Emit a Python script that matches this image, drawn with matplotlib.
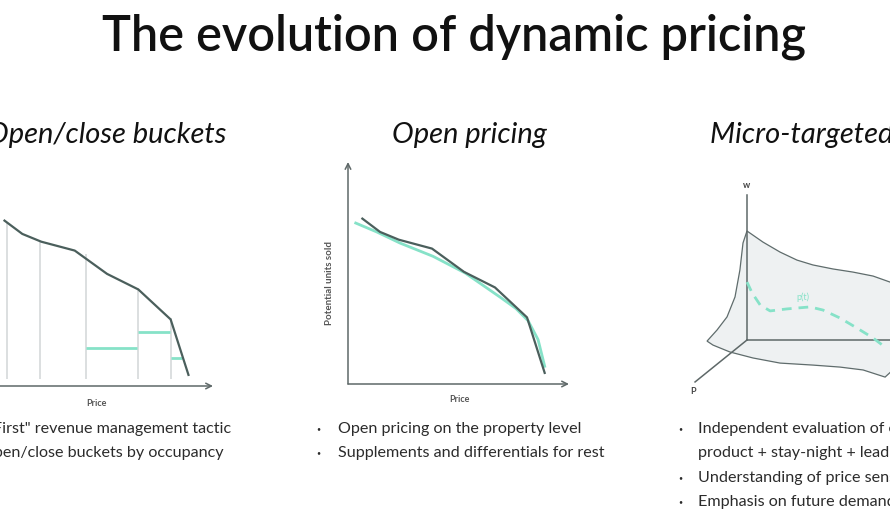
import numpy as np
import matplotlib
matplotlib.use("Agg")
import matplotlib.pyplot as plt

# demand curve (same shape in panels 1 and 2), price vs potential units sold
curve_price = [0.65, 1.45, 2.3, 3.8, 5.25, 6.65, 8.1, 8.9]
curve_units = [7.45, 6.85, 6.5, 6.1, 5.05, 4.35, 3.0, 0.5]

# open/close buckets: vertical boundaries and the teal bucket levels
bucket_x = [0.76, 2.24, 4.3, 6.64, 8.12]
bucket_top = [7.39, 6.53, 5.95, 4.41, 3.06]
bucket_bottom = 0.32
level_start = [4.3, 6.64, 8.12]
level_end = [6.6, 8.08, 8.6]
level_units = [1.71, 2.43, 1.26]

# open pricing: smooth fitted curve
smooth_price = [0.35, 1.3, 2.35, 3.85, 5.3, 6.9, 7.6, 8.15, 8.6, 8.9]
smooth_units = [7.25, 6.85, 6.35, 5.75, 5.0, 3.9, 3.4, 2.85, 2.0, 0.8]

# micro-targeted: surface outline and price path p(t)
top_u = [0, 0.72, 1.49, 2.25, 2.97, 3.87, 4.77, 5.68, 6.44, 7.34]
top_v = [4.91, 4.41, 3.96, 3.60, 3.38, 3.20, 3.06, 2.88, 2.61, 2.39]
bottom_u = [7.34, 6.67, 6.22, 5.23, 4.19, 2.97, 1.49, 0.27, -0.77, -1.53, -1.80]
bottom_v = [-0.54, -1.26, -1.67, -1.35, -1.22, -1.13, -1.04, -0.81, -0.54, -0.23, -0.05]
left_u = [-1.80, -1.35, -0.90, -0.54, -0.32, -0.18, 0]
left_v = [-0.05, 0.45, 1.04, 1.94, 3.15, 4.37, 4.91]
path_u = [0, 0.23, 0.59, 1.04, 1.80, 2.84, 3.42, 4.19, 4.95, 5.68, 6.22]
path_v = [2.61, 2.12, 1.58, 1.31, 1.40, 1.49, 1.35, 0.99, 0.54, 0.09, -0.32]

title = "The evolution of dynamic pricing"
subtitles = ["Open/close buckets", "Open pricing", "Micro-targeted pricing"]
bullets_1 = ['"First" revenue management tactic', "Open/close buckets by occupancy"]
bullets_2 = ["Open pricing on the property level", "Supplements and differentials for rest"]
bullets_3 = ["Independent evaluation of each", "product + stay-night + lead time",
             "Understanding of price sensitivity", "Emphasis on future demand"]

DARK = "#4b5f5c"
TEAL = "#86e2c8"
AXIS = "#5e6868"
GRID = "#d2d6d7"
TEXT = "#2b2b2b"

W, H = 890, 530
plt.rcParams["font.family"] = ["Lato", "DejaVu Sans"]
fig = plt.figure(figsize=(W / 100, H / 100), dpi=100)


def fx(x):
    return x / W


def fy(y):
    return 1 - y / H


def panel(left, right, top, bottom):
    ax = fig.add_axes([fx(left), fy(bottom), (right - left) / W, (bottom - top) / H])
    ax.set_xlim(0, 10)
    ax.set_ylim(0, 10)
    ax.axis("off")
    arrow = dict(arrowstyle="->", color=AXIS, lw=1.1, shrinkA=0, shrinkB=0,
                 mutation_scale=10)
    ax.annotate("", xy=(10, 0), xytext=(0, 0), arrowprops=arrow, annotation_clip=False)
    ax.annotate("", xy=(0, 10), xytext=(0, 0), arrowprops=arrow, annotation_clip=False)
    return ax


fig.text(fx(454), fy(37), title, ha="center", va="center", fontsize=35,
         fontweight="semibold", color="#111111")

# panel 1: open/close buckets
ax1 = panel(-10, 213, 164, 386)
ax1.vlines(bucket_x, bucket_bottom, bucket_top, color=GRID, lw=1.1)
ax1.hlines(level_units, level_start, level_end, color=TEAL, lw=2)
ax1.plot(curve_price, curve_units, color=DARK, lw=1.6, solid_joinstyle="round")
fig.text(fx(96), fy(403), "Price", ha="center", va="center", fontsize=6.5,
         fontweight="bold", color="#555555")

# panel 2: open pricing
ax2 = panel(348, 569, 162, 384)
ax2.plot(smooth_price, smooth_units, color=TEAL, lw=2, solid_joinstyle="round")
ax2.plot(curve_price, curve_units, color=DARK, lw=1.6, solid_joinstyle="round")
fig.text(fx(459), fy(400), "Price", ha="center", va="center", fontsize=6.5,
         fontweight="bold", color="#555555")
fig.text(fx(329), fy(283), "Potential units sold", ha="center", va="center",
         rotation=90, fontsize=7, fontweight="bold", color="#555555")

# panel 3: micro-targeted surface
ax3 = fig.add_axes([fx(680), fy(400), (950 - 680) / W, 230 / H])
ax3.set_xlim((680 - 747) / 22.2, (950 - 747) / 22.2)
ax3.set_ylim((340 - 400) / 22.2, (340 - 170) / 22.2)
ax3.axis("off")
su = top_u + bottom_u + left_u
sv = top_v + bottom_v + left_v
ax3.fill(su, sv, facecolor="#eef1f2", edgecolor="#5f6c6c", lw=0.9)
ax3.plot([0, 0], [0, 6.53], color=AXIS, lw=1.1)
ax3.plot([0, 8], [0, 0], color=AXIS, lw=1.1)
ax3.plot([0, -2.34], [0, -1.89], color=AXIS, lw=1.1)
ax3.plot(path_u, path_v, color=TEAL, lw=2, dashes=(3.5, 2.5))
ax3.text(0, 6.94, "w", ha="center", va="center", fontsize=6.5, fontweight="bold",
         color="#444444")
ax3.text(-2.43, -2.34, "P", ha="center", va="center", fontsize=6.5, fontweight="bold",
         color="#444444")
ax3.text(2.52, 1.94, "p(t)", ha="center", va="center", fontsize=6.5, color=TEAL)

# subtitles
sub_style = dict(fontsize=21, fontstyle="italic", fontweight="normal", color="#111111",
                 va="baseline")
fig.text(fx(226), fy(143), subtitles[0], ha="right", **sub_style)
fig.text(fx(469), fy(143), subtitles[1], ha="center", **sub_style)
fig.text(fx(710), fy(143), subtitles[2], ha="left", **sub_style)

# bullet lists
body = dict(fontsize=11.6, color=TEXT, va="center")
line_y = [429, 453, 478, 502]
for i, t in enumerate(bullets_1):
    fig.text(fx(231 - 7 * i), fy(line_y[i]), t, ha="right", **body)
for i, t in enumerate(bullets_2):
    fig.text(fx(318), fy(line_y[i]), "•", ha="center", fontsize=5, color=TEXT, va="center")
    fig.text(fx(338), fy(line_y[i]), t, ha="left", **body)
for i, t in enumerate(bullets_3):
    if i != 1:
        fig.text(fx(680), fy(line_y[i]), "•", ha="center", fontsize=5, color=TEXT,
                 va="center")
    fig.text(fx(698), fy(line_y[i]), t, ha="left", **body)

fig.savefig("out.png", dpi=100)
